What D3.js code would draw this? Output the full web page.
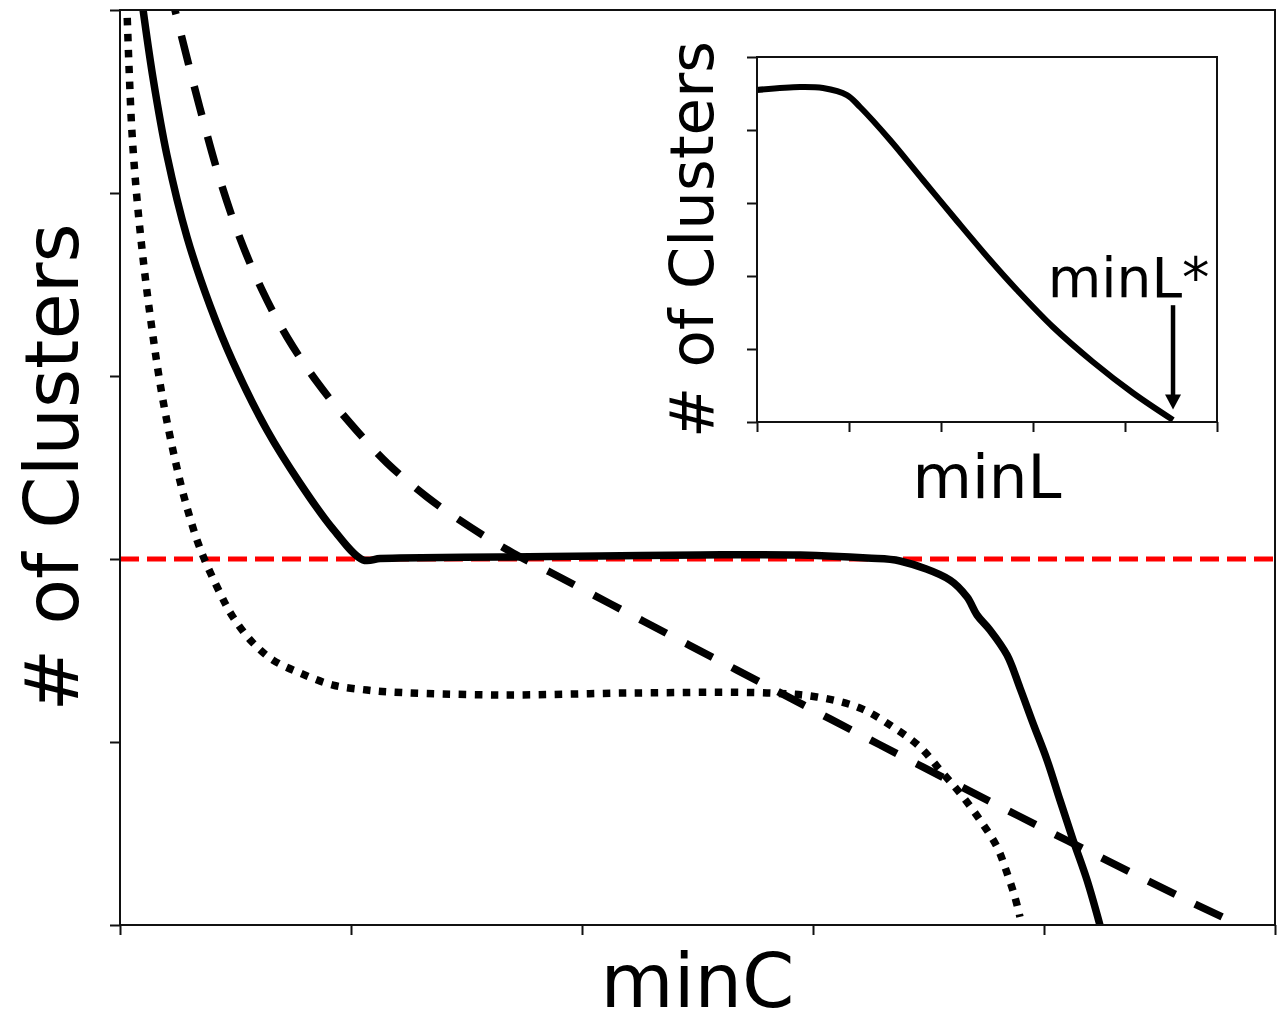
<!DOCTYPE html>
<html>
<head>
<meta charset="utf-8">
<script src="https://cdn.jsdelivr.net/npm/d3@7"></script>
<style>
  body { margin: 0; background: #fff; }
  text { font-family: "DejaVu Sans", sans-serif; fill: #000; }
</style>
</head>
<body>
<svg></svg>
<script>
// ---- data (arbitrary units, the figure shows no tick labels) ----
const tickValues = [0, 1, 2, 3, 4, 5];
const targetClusters = 2;

// solid curve
const solidMinC = [0.074, 0.100, 0.143, 0.203, 0.290, 0.390, 0.489, 0.636, 0.779, 0.922, 1.052, 1.126, 1.212, 1.645, 2.078, 2.511, 2.944, 3.234, 3.377, 3.593, 3.667, 3.710, 3.766, 3.840, 3.896, 3.952, 4.013, 4.069, 4.126, 4.186, 4.242];
const solidCount = [5.246, 5.000, 4.628, 4.208, 3.760, 3.383, 3.077, 2.705, 2.415, 2.164, 1.995, 2.003, 2.005, 2.011, 2.016, 2.022, 2.022, 2.005, 1.989, 1.885, 1.792, 1.694, 1.612, 1.475, 1.295, 1.104, 0.902, 0.683, 0.464, 0.246, 0.0];

// dashed curve
const dashedMinC = [0.195, 0.238, 0.346, 0.433, 0.519, 0.615, 0.723, 0.853, 0.996, 1.156, 1.329, 1.515, 1.701, 1.861, 2.264, 2.671, 3.074, 3.450, 3.840, 4.242, 4.645, 4.771];
const dashedCount = [5.219, 5.000, 4.464, 4.071, 3.754, 3.470, 3.213, 2.967, 2.743, 2.525, 2.339, 2.175, 2.033, 1.929, 1.661, 1.393, 1.126, 0.880, 0.628, 0.372, 0.120, 0.044];

// dotted curve
const dottedMinC = [0.022, 0.030, 0.039, 0.052, 0.074, 0.104, 0.139, 0.182, 0.229, 0.281, 0.346, 0.433, 0.489, 0.576, 0.662, 0.779, 0.922, 1.069, 1.177, 1.645, 2.221, 2.801, 3.017, 3.203, 3.346, 3.463, 3.550, 3.636, 3.723, 3.797, 3.840, 3.874, 3.896];
const dottedCount = [5.219, 5.000, 4.689, 4.328, 3.962, 3.596, 3.251, 2.896, 2.596, 2.322, 2.060, 1.814, 1.683, 1.541, 1.448, 1.377, 1.311, 1.284, 1.273, 1.257, 1.268, 1.268, 1.246, 1.186, 1.082, 0.973, 0.847, 0.721, 0.574, 0.426, 0.284, 0.153, 0.044];

// inset curve
const insetMinL = [0, 0.467, 0.717, 0.978, 1.120, 1.446, 1.804, 2.174, 2.533, 2.826, 3.217, 3.652, 4.087, 4.522];
const insetCount = [4.548, 4.589, 4.575, 4.479, 4.315, 3.863, 3.315, 2.753, 2.219, 1.808, 1.301, 0.822, 0.397, 0.027];

const minLStar = 4.522;
const arrowFrom = 1.60;
const arrowTo = 0.17;
const starLabelPos = [4.04, 1.71];

// ---- svg ----
const width = 1283;
const height = 1016;
const svg = d3.select("svg").attr("width", width).attr("height", height);

const zip = (xs, ys) => xs.map((x, i) => ({ x, y: ys[i] }));

// ---- main axes ----
const margin = { top: 10, right: 8, bottom: 91, left: 120 };
const innerWidth = width - margin.left - margin.right;
const innerHeight = height - margin.top - margin.bottom;

const xScale = d3.scaleLinear().domain([0, 5]).range([0, innerWidth]);
const yScale = d3.scaleLinear().domain([0, 5]).range([innerHeight, 0]);

const g = svg.append("g").attr("transform", `translate(${margin.left}, ${margin.top})`);

g.append("clipPath").attr("id", "mainClip")
  .append("rect").attr("width", innerWidth).attr("height", innerHeight);

const line = d3.line()
  .x(d => xScale(d.x)).y(d => yScale(d.y))
  .curve(d3.curveCatmullRom.alpha(0.5));

const plot = g.append("g").attr("clip-path", "url(#mainClip)");

// target line
plot.append("line")
  .attr("x1", 0).attr("x2", innerWidth)
  .attr("y1", yScale(targetClusters)).attr("y2", yScale(targetClusters))
  .attr("stroke", "#ff0000").attr("stroke-width", 5)
  .attr("stroke-dasharray", "19,8");

plot.append("path").datum(zip(dottedMinC, dottedCount))
  .attr("d", line).attr("fill", "none").attr("stroke", "#000")
  .attr("stroke-width", 7.5).attr("stroke-dasharray", "7.5,8.5");

const dashOn = 30, dashOff = 22;
const dashedPath = plot.append("path").datum(zip(dashedMinC, dashedCount))
  .attr("d", line).attr("fill", "none").attr("stroke", "#000")
  .attr("stroke-width", 7.5).attr("stroke-dasharray", `${dashOn},${dashOff}`);
// let the pattern finish on a dash at the line's end
const dashLen = dashedPath.node().getTotalLength();
const period = dashOn + dashOff;
dashedPath.attr("stroke-dashoffset", (((dashOn - dashLen) % period) + period) % period);

plot.append("path").datum(zip(solidMinC, solidCount))
  .attr("d", line).attr("fill", "none").attr("stroke", "#000")
  .attr("stroke-width", 7.5).attr("stroke-linejoin", "round");

// axes
const xAxisG = g.append("g").attr("transform", `translate(0, ${innerHeight})`)
  .call(d3.axisBottom(xScale).tickValues(tickValues).tickSize(10).tickFormat(""));
const yAxisG = g.append("g")
  .call(d3.axisLeft(yScale).tickValues(tickValues).tickSize(10).tickFormat(""));
[xAxisG, yAxisG].forEach(a => {
  a.select(".domain").remove();
  a.selectAll(".tick line").attr("stroke", "#111").attr("stroke-width", 2);
});

g.append("rect").attr("width", innerWidth).attr("height", innerHeight)
  .attr("fill", "none").attr("stroke", "#111").attr("stroke-width", 2);

g.append("text")
  .attr("x", innerWidth / 2).attr("y", innerHeight + 82)
  .attr("text-anchor", "middle").attr("font-size", 75)
  .text("minC");

g.append("text")
  .attr("transform", `translate(-42, ${innerHeight / 2}) rotate(-90)`)
  .attr("text-anchor", "middle").attr("font-size", 75)
  .text("# of Clusters");

// ---- inset ----
const inset = { left: 757, top: 57, width: 460, height: 365 };
const xIn = d3.scaleLinear().domain([0, 5]).range([0, inset.width]);
const yIn = d3.scaleLinear().domain([0, 5]).range([inset.height, 0]);

const gi = svg.append("g").attr("transform", `translate(${inset.left}, ${inset.top})`);

gi.append("rect").attr("width", inset.width).attr("height", inset.height).attr("fill", "#fff");

const lineIn = d3.line()
  .x(d => xIn(d.x)).y(d => yIn(d.y))
  .curve(d3.curveCatmullRom.alpha(0.5));

gi.append("path").datum(zip(insetMinL, insetCount))
  .attr("d", lineIn).attr("fill", "none").attr("stroke", "#000")
  .attr("stroke-width", 6).attr("stroke-linejoin", "round");

const xInAxisG = gi.append("g").attr("transform", `translate(0, ${inset.height})`)
  .call(d3.axisBottom(xIn).tickValues(tickValues).tickSize(10).tickFormat(""));
const yInAxisG = gi.append("g")
  .call(d3.axisLeft(yIn).tickValues(tickValues).tickSize(10).tickFormat(""));
[xInAxisG, yInAxisG].forEach(a => {
  a.select(".domain").remove();
  a.selectAll(".tick line").attr("stroke", "#111").attr("stroke-width", 2);
});

gi.append("rect").attr("width", inset.width).attr("height", inset.height)
  .attr("fill", "none").attr("stroke", "#111").attr("stroke-width", 2);

// arrow pointing at minL*
const ax = xIn(minLStar);
const tipY = yIn(arrowTo);
gi.append("line")
  .attr("x1", ax).attr("x2", ax)
  .attr("y1", yIn(arrowFrom)).attr("y2", tipY - 12)
  .attr("stroke", "#000").attr("stroke-width", 4.5);
gi.append("path")
  .attr("d", `M${ax - 8},${tipY - 15} L${ax + 8},${tipY - 15} L${ax},${tipY} Z`)
  .attr("fill", "#000");

gi.append("text")
  .attr("x", xIn(starLabelPos[0])).attr("y", yIn(starLabelPos[1]))
  .attr("text-anchor", "middle").attr("font-size", 55)
  .text("minL*");

gi.append("text")
  .attr("x", inset.width / 2).attr("y", inset.height + 76)
  .attr("text-anchor", "middle").attr("font-size", 61)
  .text("minL");

gi.append("text")
  .attr("transform", `translate(-44, ${inset.height / 2}) rotate(-90)`)
  .attr("text-anchor", "middle").attr("font-size", 61)
  .text("# of Clusters");
</script>
</body>
</html>
